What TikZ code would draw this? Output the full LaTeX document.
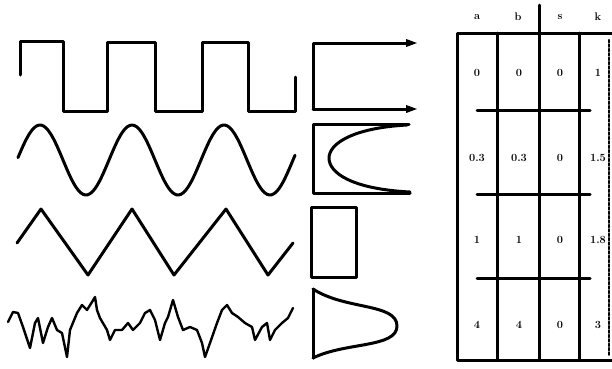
\documentclass[tikz,border=0pt]{standalone}
\usetikzlibrary{arrows.meta}
\begin{document}
\begin{tikzpicture}[x=1pt,y=-1pt,
  ink/.style={line width=3pt,line join=round,line cap=round},
  thin ink/.style={line width=2.4pt,line join=round,line cap=round},
  cell/.style={font=\bfseries\fontsize{11}{12}\selectfont,inner sep=0pt}]
\useasboundingbox (0,0) rectangle (612,368);
% square wave
\draw[ink] (20,75) -- (20,41) -- (63,41) -- (63,111) -- (107,111) -- (107,42) -- (155,42) -- (155,111) -- (202,111) -- (202,42) -- (248,42) -- (248,111) -- (295,111) -- (295,77);
\coordinate (sqa) at (313,43); \coordinate (sqb) at (313,109);
\coordinate (sqc) at (418,43); \coordinate (sqd) at (418,109);
\draw[ink,-{Triangle[length=12pt,width=7pt]}] (sqb) -- (sqa) -- (sqc);
\draw[ink,-{Triangle[length=12pt,width=7pt]}] (sqb) -- (sqd);
% sine wave
\draw[ink,domain=18:295,samples=120,smooth] plot (\x,{160-35*cos(3.913*(\x-40))});
\draw[ink] (409,124) -- (313,124) -- (313,193) -- (410,193);
\draw[ink] (407,125) .. controls (352,128) and (329,144) .. (329,158) .. controls (329,173) and (352,189) .. (410,192);
% triangle wave
\draw[ink] (17,243) -- (41,209) -- (88,275) -- (132,209) -- (174,275) -- (226,209) -- (268,275) -- (293,243);
\draw[ink] (311,207) rectangle (356,277);
% noise
\draw[thin ink] plot coordinates {(8,322) (13,312) (18,313) (23,327) (30,348) (35,323) (38,318) (43,343) (48,327) (52,318) (57,330) (62,333) (67,357) (70,330) (77,313) (82,305) (87,310) (92,302) (95,297) (97,310) (100,318) (107,330) (110,340) (115,330) (122,330) (128,323) (133,330) (140,323) (145,313) (150,310) (155,320) (160,340) (165,323) (168,317) (173,300) (178,317) (183,330) (190,327) (197,330) (202,343) (205,357) (210,343) (217,323) (222,310) (227,305) (232,313) (238,317) (245,323) (252,327) (255,340) (262,327) (267,323) (270,340) (275,330) (282,323) (288,318) (293,308)};
\draw[ink] (313,289) -- (313,358);
\draw[ink] (313,289) .. controls (345,310) and (397,303) .. (397,326) .. controls (397,348) and (345,342) .. (313,358);
% table
\draw[ink] (612,33) -- (457,33) -- (457,360) -- (612,360);
\draw[ink] (497,33) -- (497,360);
\draw[ink] (539,5) -- (539,360);
\draw[ink] (579,33) -- (579,360);
\draw[ink] (477,110) -- (590,110);
\draw[ink] (477,194) -- (590,194);
\draw[ink] (477,278) -- (590,278);
\draw[thin ink,dotted] (609,40) -- (609,355);
\node[cell] (ha) at (477,17) {a};
\node[cell] (hb) at (518,17) {b};
\node[cell] (hs) at (560,17) {s};
\node[cell] (hk) at (598,17) {k};
\node[cell] (a1) at (477,73) {0};
\node[cell] (b1) at (519,73) {0};
\node[cell] (s1) at (560,73) {0};
\node[cell] (k1) at (598,73) {1};
\node[cell] (a2) at (477,158) {0.3};
\node[cell] (b2) at (519,158) {0.3};
\node[cell] (s2) at (560,158) {0};
\node[cell] (k2) at (598,158) {1.5};
\node[cell] (a3) at (477,240) {1};
\node[cell] (b3) at (519,240) {1};
\node[cell] (s3) at (560,240) {0};
\node[cell] (k3) at (598,240) {1.8};
\node[cell] (a4) at (477,325) {4};
\node[cell] (b4) at (519,325) {4};
\node[cell] (s4) at (560,325) {0};
\node[cell] (k4) at (598,325) {3};
\end{tikzpicture}
\end{document}
